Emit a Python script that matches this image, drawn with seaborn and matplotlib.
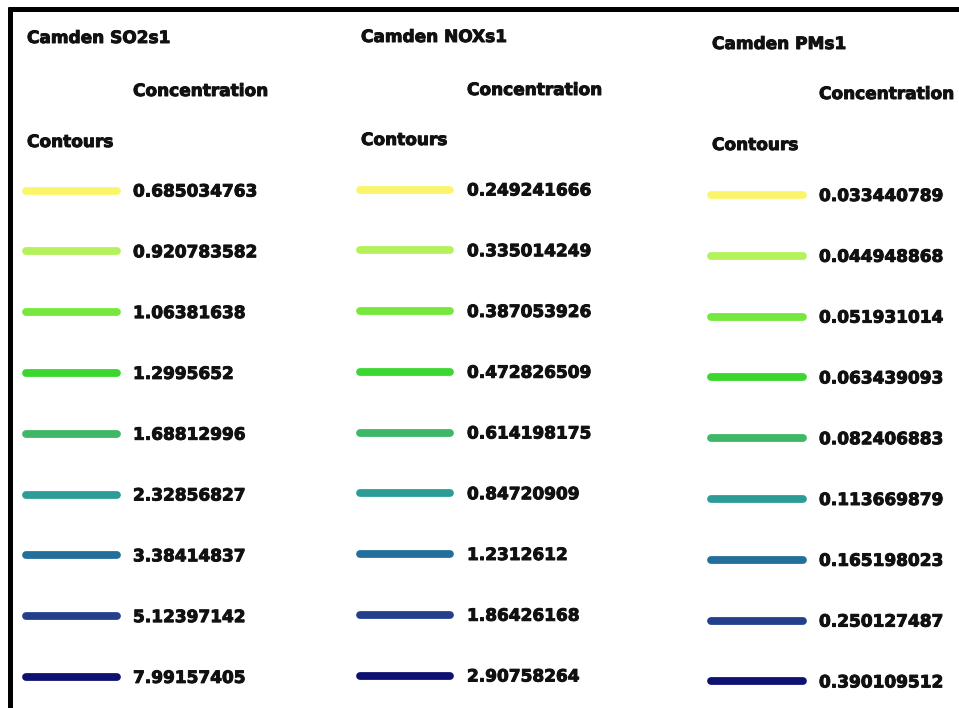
"""Contour legend panels for Camden SO2, NOx and PM concentrations."""

import matplotlib

matplotlib.use("Agg")
import matplotlib.patheffects as pe
import matplotlib.pyplot as plt
import pandas as pd
import seaborn as sns

# Data
panel_titles = ["Camden SO2s1", "Camden NOXs1", "Camden PMs1"]

so2_levels = ["0.685034763", "0.920783582", "1.06381638", "1.2995652", "1.68812996",
              "2.32856827", "3.38414837", "5.12397142", "7.99157405"]
nox_levels = ["0.249241666", "0.335014249", "0.387053926", "0.472826509", "0.614198175",
              "0.84720909", "1.2312612", "1.86426168", "2.90758264"]
pm_levels = ["0.033440789", "0.044948868", "0.051931014", "0.063439093", "0.082406883",
             "0.113669879", "0.165198023", "0.250127487", "0.390109512"]

contour_colours = ["#fbf56c", "#b3f25a", "#74e83c", "#3bd62f", "#3eb866",
                   "#2b9d96", "#236f9c", "#243f8c", "#0f1172"]

# Layout in pixel units (x, y from top-left)
panels = [
    dict(title_x=27, title_y=43, conc_x=133, conc_y=96, cont_y=147,
         line_x=(22, 120), label_x=133, row0=190.5, step=60.8),
    dict(title_x=361, title_y=42, conc_x=467, conc_y=95, cont_y=145,
         line_x=(356, 453), label_x=467, row0=189.5, step=60.75),
    dict(title_x=712, title_y=49, conc_x=819, conc_y=99, cont_y=150,
         line_x=(707, 806), label_x=819, row0=195, step=60.8),
]

W, H = 959, 708
text_kw = dict(fontsize=12.2, fontweight="bold", color="#111111",
               family="DejaVu Sans", va="baseline", ha="left",
               path_effects=[pe.withStroke(linewidth=0.7, foreground="#111111")])

sns.set_theme(style="white")
fig = plt.figure(figsize=(W / 100, H / 100), dpi=100)
ax = fig.add_axes([0, 0, 1, 1])

# Frame (top and left edges)
ax.plot([8, W], [8.5, 8.5], color="black", lw=3.6, solid_capstyle="butt")
ax.plot([10, 10], [6.7, H], color="black", lw=3.6, solid_capstyle="butt")

for title, levels, lay in zip(panel_titles, [so2_levels, nox_levels, pm_levels], panels):
    ax.text(lay["title_x"], lay["title_y"], title, **text_kw)
    ax.text(lay["conc_x"], lay["conc_y"], "Concentration", **text_kw)
    ax.text(lay["title_x"], lay["cont_y"], "Contours", **text_kw)

    x0, x1 = lay["line_x"]
    pad = 3.5  # account for the round caps
    rows = []
    for i, level in enumerate(levels):
        y = lay["row0"] + i * lay["step"]
        rows.append({"x": x0 + pad, "y": y, "level": level})
        rows.append({"x": x1 - pad, "y": y, "level": level})
        ax.text(lay["label_x"], y + 6, level, **text_kw)
    df = pd.DataFrame(rows)

    sns.lineplot(data=df, x="x", y="y", hue="level", hue_order=levels,
                 palette=dict(zip(levels, contour_colours)), estimator=None,
                 sort=False, legend=False, linewidth=5.6,
                 solid_capstyle="round", ax=ax)

ax.set_xlim(0, W)
ax.set_ylim(H, 0)
ax.axis("off")

fig.savefig("out.png", dpi=100)
